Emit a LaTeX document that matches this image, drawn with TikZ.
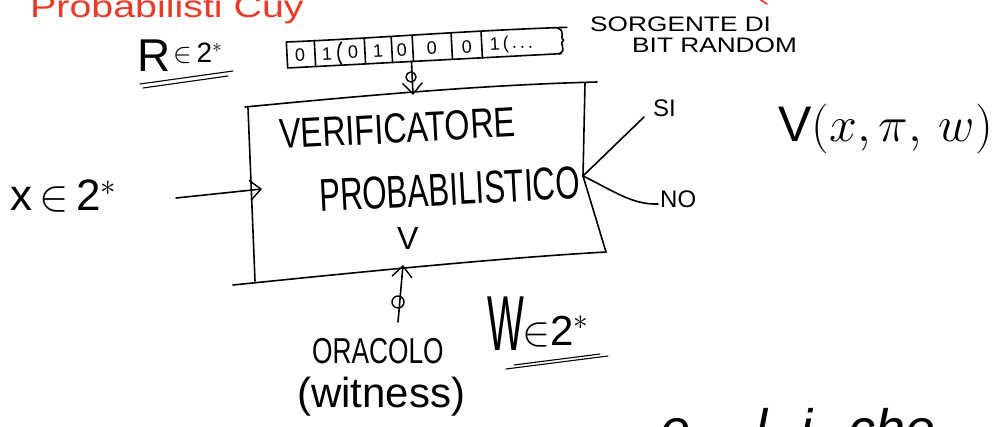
\RequirePackage{fix-cm}
\documentclass[tikz,border=0pt]{standalone}
\usepackage{graphicx}
\usepackage{fontspec}
\setmainfont{Liberation Sans}
\usetikzlibrary{arrows.meta,calc}
\definecolor{inkred}{RGB}{234,58,42}
\tikzset{
  ink/.style={line width=1.6pt, line cap=round, line join=round},
  thin ink/.style={line width=1.1pt, line cap=round},
  barb/.style={-{Straight Barb[length=11pt,width=20pt,line width=1.4pt]}},
  lbl/.style={inner sep=0pt, anchor=base west},
  fs/.style={font=\fontsize{#1}{#1}\selectfont},
  bit/.style={inner sep=0pt, rotate=3, font=\fontsize{18}{18}\selectfont},
  ring/.style={draw, circle, line width=1.4pt, inner sep=0pt, minimum size=#1},
}
\begin{document}
\begin{tikzpicture}[x=1pt,y=-1pt]
\useasboundingbox (0,0) rectangle (1006,427);
\fill[white] (0,0) rectangle (1006,427);
\clip (0,0) rectangle (1006,427);

% heading, in red
\node[lbl, fs=31, text=inkred] (head) at (30,18) {\scalebox{1.27}[1]{Probabilisti Cuy}};
\draw[ink, inkred] (758,-2) -- (767,4);

% random string R
\node[lbl, fs=46] (R) at (137,72) {R};
\node[lbl, fs=28] (Rset) at (173,63) {$\in$\,2$^{\ast}$};
\draw[thin ink] (140,84) -- (233,71);
\draw[thin ink] (143,88) -- (228,76);

% tape of random bits
\begin{scope}[shift={(287,55)}, rotate=3]
  \draw[ink] (0,-13) -- (0,13) -- (274,13);
  \draw[ink] (0,-13) .. controls (90,-12) and (180,-15) .. (281,-13);
  \draw[ink] (271,-13) .. controls (281,-9) and (272,-3) .. (277,0)
             .. controls (271,3) and (281,9) .. (272,13);
  \foreach \d in {28,78,105,126,165,195} \draw[ink] (\d,-13) -- (\d,13);
  \draw[ink] (55,-10) .. controls (50,-4) and (50,6) .. (54,12);
  \foreach \n/\x/\t in {1/13/0, 2/40/1, 3/66/0, 4/91/1, 5/115/0, 6/145/0, 7/180/0}
    \node[bit] (bit\n) at (\x,1) {\t};
  \node[bit, anchor=west] (bit8) at (203,1) {1\,(\,.\,.\,.};
  \coordinate (tapeOut) at (124,13);
\end{scope}
\node[lbl, fs=21] (src1) at (590,32) {\scalebox{1.25}[1]{SORGENTE DI}};
\node[lbl, fs=21] (src2) at (632,53) {\scalebox{1.25}[1]{BIT RANDOM}};

% the verifier box
\coordinate (tl) at (245,107);
\coordinate (tr) at (597,82);
\coordinate (bl) at (233,285);
\coordinate (br) at (606,252);
\draw[ink] (tl) .. controls (360,96) and (480,85) .. (tr);
\draw[ink] (248,108) -- (255,281);
\draw[ink] (bl) .. controls (360,272) and (500,258) .. (br);
\coordinate (out) at (583,176);
\draw[ink] (585,83) -- (out) -- (br);

\node[lbl, fs=42, rotate=3] (verif) at (280,149) {\scalebox{0.77}[1]{VERIFICATORE}};
\node[lbl, fs=46, rotate=3] (prob) at (320,212) {\scalebox{0.68}[1]{PROBABILISTICO}};
\node[lbl, fs=32] (vname) at (397,250) {V};

% bits read from the tape
\coordinate (boxTopIn) at (413,95);
\node[ring=10pt] (phiA) at (411,77) {};
\draw[ink, barb] (tapeOut) -- (boxTopIn);

% input string
\node[lbl, fs=44] (xin) at (10,211) {x\,$\in$\,2$^{\ast}$};
\coordinate (inTail) at (176,198);
\coordinate (inHead) at (262,189);
\draw[ink, barb] (inTail) -- (inHead);

% outcomes
\node[lbl, fs=24] (si) at (653,117) {SI};
\node[lbl, fs=24] (no) at (660,208) {NO};
\draw[ink] (out) -- ([xshift=-9pt]si.base west);
\draw[ink] (out) .. controls (612,190) and (632,205) .. ([shift={(-2,-4)}]no.base west);

\node[lbl, fs=50] (vfun) at (778,142) {$\mathrm{V}(x,\pi,\,w)$};

% oracle / witness
\coordinate (oracTail) at (398,322);
\coordinate (boxBotIn) at (403,265);
\node[ring=12pt] (phiB) at (398,302) {};
\draw[ink, barb] (oracTail) -- (boxBotIn);
\node[lbl, fs=36] (orac) at (312,363) {\scalebox{0.73}[1]{ORACOLO}};
\node[lbl, fs=42] (wit) at (297,407) {(witness)};

\node[lbl, fs=78] (W) at (487,350) {\scalebox{0.5}[1]{W}};
\node[lbl, fs=42] (Wset) at (522,345) {$\in$2$^{\ast}$};
\draw[thin ink] (506,369) -- (608,356);
\draw[thin ink] (514,365) -- (600,354);

% words running off the bottom edge
\node[lbl, fs=54] (w1) at (660,447) {\itshape e};
\node[lbl, fs=54] (w2) at (755,447) {\itshape l};
\node[lbl, fs=54] (w3) at (800,447) {\itshape i};
\node[lbl, fs=54] (w4) at (848,447) {\itshape che};
\end{tikzpicture}
\end{document}
